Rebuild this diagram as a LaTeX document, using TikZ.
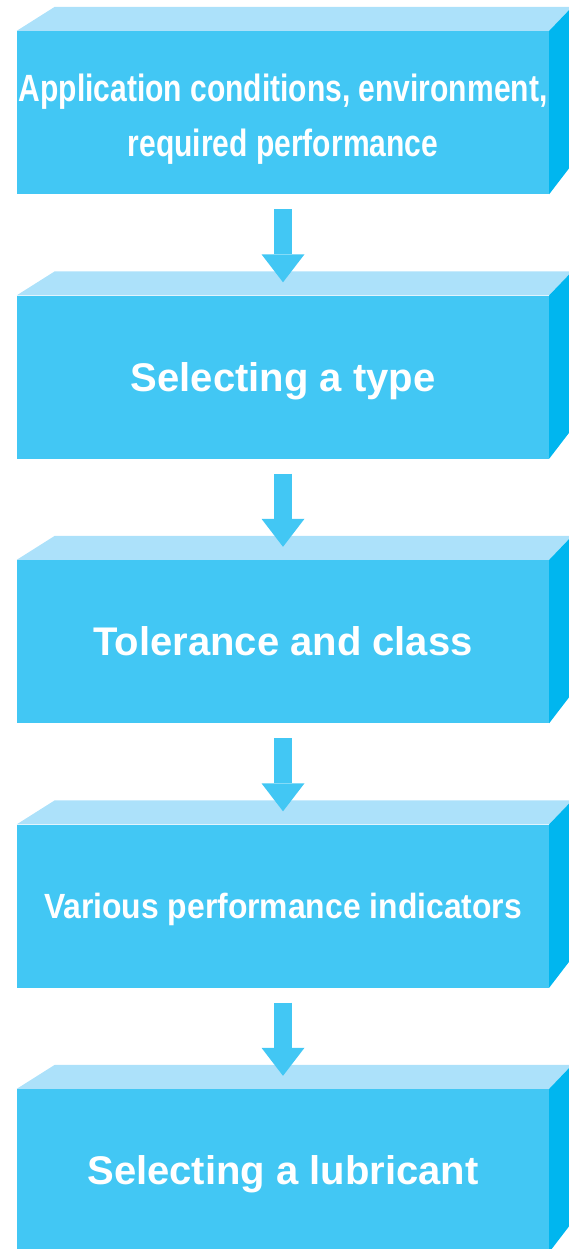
\documentclass[tikz,border=0pt]{standalone}
\usepackage{fontspec}
\setmainfont{Liberation Sans}
\newfontfamily\widefont{Liberation Sans Bold}
\newfontfamily\narrowfont[FakeStretch=0.79]{Liberation Sans Bold}
\newfontfamily\midfont[FakeStretch=0.91]{Liberation Sans Bold}
\usetikzlibrary{arrows.meta}
\definecolor{frontblue}{HTML}{42C7F4}
\definecolor{topblue}{HTML}{ACE1FA}
\definecolor{sideblue}{HTML}{00B6EF}
\tikzset{
  stepfront/.style={rectangle,fill=frontblue,minimum width=532pt,minimum height=163pt,
    inner sep=0pt,text=white,align=center},
  bigtext/.style={font=\widefont\fontsize{40}{48}\selectfont,text height=28.6pt,text depth=0pt},
  flowarrow/.style={color=frontblue,line width=18pt,
    -{Triangle[width=43pt,length=28pt,line width=0pt,fill=frontblue]},shorten <=15pt,shorten >=13pt}
}
\begin{document}
\begin{tikzpicture}[x=1pt,y=-1pt]
\useasboundingbox (0,0) rectangle (569,1249);
\node[stepfront,font=\narrowfont\fontsize{38}{55}\selectfont] (cond) at (283,112.5)
  {\rule{0pt}{40pt}Application conditions, environment,\\required performance};
\node[stepfront,bigtext] (type) at (283,377) {Selecting a type};
\node[stepfront,bigtext] (tol) at (283,641.5) {Tolerance and class};
\node[stepfront,font=\midfont\fontsize{35}{42}\selectfont,text height=25pt,text depth=0pt] (perf) at (283,906) {Various performance indicators};
\node[stepfront,bigtext] (lub) at (283,1170.5) {Selecting a lubricant};
% top and side faces
\fill[topblue] (cond.north west) -- ++(38,-24) -- ([shift={(23,-24)}]cond.north east) -- (cond.north east) -- cycle;
\fill[sideblue] (cond.north east) -- ++(23,-24) -- ([shift={(23,-30)}]cond.south east) -- (cond.south east) -- cycle;
\fill[topblue] (type.north west) -- ++(38,-24) -- ([shift={(23,-24)}]type.north east) -- (type.north east) -- cycle;
\fill[sideblue] (type.north east) -- ++(23,-24) -- ([shift={(23,-30)}]type.south east) -- (type.south east) -- cycle;
\fill[topblue] (tol.north west) -- ++(38,-24) -- ([shift={(23,-24)}]tol.north east) -- (tol.north east) -- cycle;
\fill[sideblue] (tol.north east) -- ++(23,-24) -- ([shift={(23,-30)}]tol.south east) -- (tol.south east) -- cycle;
\fill[topblue] (perf.north west) -- ++(38,-24) -- ([shift={(23,-24)}]perf.north east) -- (perf.north east) -- cycle;
\fill[sideblue] (perf.north east) -- ++(23,-24) -- ([shift={(23,-30)}]perf.south east) -- (perf.south east) -- cycle;
\fill[topblue] (lub.north west) -- ++(38,-24) -- ([shift={(23,-24)}]lub.north east) -- (lub.north east) -- cycle;
\fill[sideblue] (lub.north east) -- ++(23,-24) -- ([shift={(23,-30)}]lub.south east) -- (lub.south east) -- cycle;
% arrows between steps
\path[flowarrow]
(cond) edge (type)
(type) edge (tol)
(tol) edge (perf)
(perf) edge (lub)
;
\end{tikzpicture}
\end{document}
